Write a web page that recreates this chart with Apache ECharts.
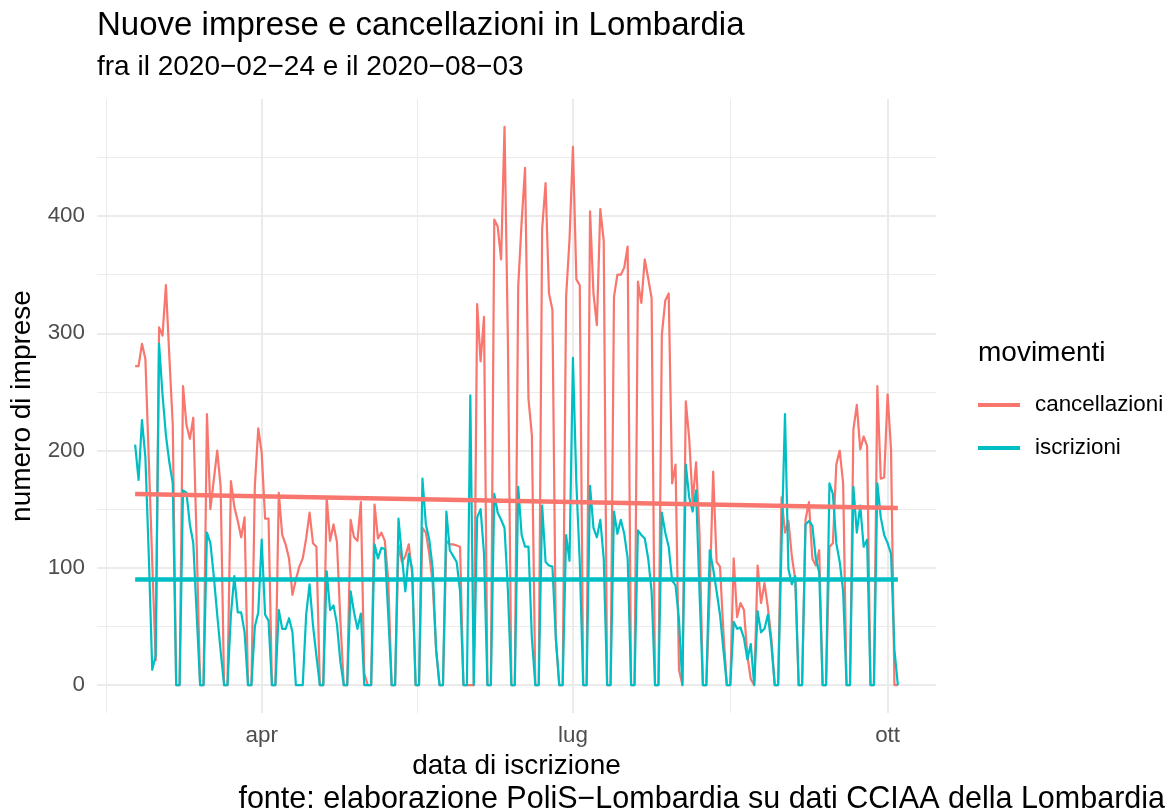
<!DOCTYPE html>
<html>
<head>
<meta charset="utf-8">
<script src="https://cdn.jsdelivr.net/npm/echarts@6/dist/echarts.min.js"></script>
<style>
  html, body { margin: 0; padding: 0; background: #fff; }
  #chart { width: 1176px; height: 811px; }
</style>
</head>
<body>
<div id="chart"></div>
<script>
// daily values from Monday 2020-02-24, one week (Mon..Sun) per line
const cancellazioni = [
  272, 272, 291, 278, 192, 105, 21,
  305, 298, 341, 280, 222, 0, 0,
  255, 222, 210, 228, 120, 0, 0,
  231, 150, 175, 200, 169, 0, 0,
  174, 152, 140, 126, 143, 0, 0,
  170, 219, 198, 142, 142, 0, 0,
  164, 128, 120, 108, 77, 90, 101,
  108, 125, 147, 121, 118, 0, 0,
  160, 123, 137, 122, 55, 0, 0,
  141, 126, 123, 156, 10, 0, 0,
  154, 125, 130, 123, 90, 0, 0,
  120, 105, 110, 120, 95, 0, 0,
  134, 130, 112, 86, 30, 0, 0,
  123, 120, 120, 119, 118, 0, 0,
  0, 0, 325, 276, 314, 0, 0,
  397, 391, 363, 476, 290, 0, 0,
  340, 395, 441, 244, 213, 0, 0,
  389, 428, 334, 320, 40, 0, 0,
  331, 380, 459, 346, 341, 0, 0,
  404, 334, 307, 406, 379, 0, 0,
  331, 350, 350, 356, 374, 0, 0,
  344, 326, 363, 347, 330, 0, 0,
  299, 328, 334, 172, 188, 13, 0,
  242, 210, 156, 190, 130, 0, 0,
  80, 182, 105, 101, 45, 0, 0,
  108, 58, 70, 64, 25, 5, 0,
  102, 70, 87, 66, 40, 0, 0,
  160, 130, 140, 110, 90, 0, 0,
  141, 156, 108, 102, 115, 0, 0,
  118, 121, 188, 200, 172, 0, 0,
  218, 239, 201, 212, 204, 0, 0,
  255, 176, 177, 248, 201, 0, 0
];
const iscrizioni = [
  205, 175, 226, 194, 110, 13, 25,
  291, 248, 213, 190, 172, 0, 0,
  166, 164, 137, 121, 60, 0, 0,
  130, 121, 93, 60, 29, 0, 0,
  60, 93, 62, 62, 45, 0, 0,
  50, 62, 124, 60, 55, 0, 0,
  64, 48, 48, 57, 45, 0, 0,
  0, 60, 86, 51, 25, 0, 0,
  97, 64, 68, 52, 20, 0, 0,
  80, 62, 48, 61, 0, 0, 0,
  120, 108, 117, 116, 60, 0, 0,
  142, 110, 80, 112, 99, 0, 0,
  176, 137, 124, 99, 30, 0, 0,
  148, 115, 110, 105, 80, 0, 0,
  247, 0, 143, 150, 112, 0, 0,
  163, 147, 141, 134, 80, 0, 0,
  169, 128, 118, 118, 40, 0, 0,
  153, 105, 102, 101, 40, 0, 0,
  128, 106, 279, 172, 105, 0, 0,
  170, 134, 126, 141, 108, 0, 0,
  148, 129, 141, 129, 108, 0, 0,
  132, 128, 125, 108, 80, 0, 0,
  147, 130, 118, 89, 85, 56, 0,
  188, 160, 148, 166, 80, 0, 0,
  115, 99, 80, 60, 30, 0, 0,
  54, 48, 49, 40, 22, 35, 0,
  63, 45, 48, 60, 35, 0, 0,
  120, 231, 99, 86, 93, 0, 0,
  137, 140, 136, 108, 96, 0, 0,
  172, 163, 121, 105, 80, 0, 0,
  169, 130, 153, 118, 124, 0, 0,
  172, 143, 128, 121, 112, 30, 0
];
// linear trend (first day, last day)
const trendCancellazioni = [163, 151];
const trendIscrizioni = [90, 90];

const yTicks = [0, 100, 200, 300, 400];
const yMinor = [50, 150, 250, 350, 450];
const monthNames = ['gen', 'feb', 'mar', 'apr', 'mag', 'giu', 'lug', 'ago', 'set', 'ott', 'nov', 'dic'];

const RED = '#F8766D';
const TEAL = '#00BFC4';
const FONT = 'Liberation Sans, Arial, sans-serif';

function dayTs(i) {
    return new Date(2020, 1, 24 + i).getTime();
}

window.onload = function () {
    let n = cancellazioni.length;
    let span = dayTs(n - 1) - dayTs(0);
    let xMin = dayTs(0) - 0.05 * span;
    let xMax = dayTs(n - 1) + 0.05 * span;
    let top = Math.max(Math.max(...cancellazioni), Math.max(...iscrizioni));
    let yMin = -0.05 * top;
    let yMax = top * 1.05;

    // major breaks on month starts, minor breaks halfway between them
    let majors = [new Date(2020, 0, 1).getTime(), new Date(2020, 3, 1).getTime(),
                  new Date(2020, 6, 1).getTime(), new Date(2020, 9, 1).getTime()];
    let xTicks = majors.slice(1);
    let xMinor = [];
    for (let i = 0; i < majors.length - 1; i++) {
        xMinor.push((majors[i] + majors[i + 1]) / 2);
    }

    let chart = echarts.init(document.getElementById('chart'));
    let option = {
        animation: false,
        backgroundColor: '#fff',
        textStyle: { fontFamily: FONT },
        title: [
            {
                text: 'Nuove imprese e cancellazioni in Lombardia',
                left: 97, top: 9, padding: 0,
                textStyle: { fontSize: 33, fontWeight: 'normal', color: '#000', fontFamily: FONT }
            },
            {
                text: 'fra il 2020\u221202\u221224 e il 2020\u221208\u221203',
                left: 97, top: 53, padding: 0,
                textStyle: { fontSize: 28, fontWeight: 'normal', color: '#000', fontFamily: FONT }
            },
            {
                text: 'movimenti',
                left: 978, top: 339, padding: 0,
                textStyle: { fontSize: 28, fontWeight: 'normal', color: '#000', fontFamily: FONT }
            },
            {
                text: 'fonte: elaborazione PoliS\u2212Lombardia su dati CCIAA della Lombardia',
                right: 11, top: 784, padding: 0,
                textStyle: { fontSize: 30.5, fontWeight: 'normal', color: '#000', fontFamily: FONT }
            }
        ],
        legend: {
            orient: 'vertical',
            left: 978, top: 393, padding: 0,
            itemWidth: 42, itemHeight: 4, itemGap: 19,
            icon: 'rect',
            selectedMode: false,
            data: ['cancellazioni', 'iscrizioni'],
            textStyle: { fontSize: 22.4, color: '#000', lineHeight: 24, padding: [0, 0, 0, 10], fontFamily: FONT }
        },
        grid: { left: 97, right: 240, top: 99, bottom: 98, containLabel: false },
        xAxis: [
            {
                type: 'value', min: xMin, max: xMax,
                axisLine: { show: false },
                axisTick: { show: false, customValues: xTicks },
                axisLabel: {
                    customValues: xTicks,
                    formatter: (v) => monthNames[new Date(v).getMonth()],
                    color: '#4D4D4D', fontSize: 22.4, margin: 12, fontFamily: FONT
                },
                splitLine: { show: true, lineStyle: { color: '#EBEBEB', width: 2 } },
                name: 'data di iscrizione', nameLocation: 'middle', nameGap: 36,
                nameTextStyle: { fontSize: 28, color: '#000', fontFamily: FONT }
            },
            {
                type: 'value', min: xMin, max: xMax,
                axisLine: { show: false },
                axisTick: { show: false, customValues: xMinor },
                axisLabel: { show: false, customValues: xMinor },
                splitLine: { show: true, lineStyle: { color: '#EBEBEB', width: 1 } }
            }
        ],
        yAxis: [
            {
                type: 'value', min: yMin, max: yMax,
                axisLine: { show: false },
                axisTick: { show: false, customValues: yTicks },
                axisLabel: { customValues: yTicks, color: '#4D4D4D', fontSize: 22.4, margin: 12, fontFamily: FONT },
                splitLine: { show: true, lineStyle: { color: '#EBEBEB', width: 2 } },
                name: 'numero di imprese', nameLocation: 'middle', nameGap: 43, nameRotate: 90,
                nameTextStyle: { fontSize: 28, color: '#000', fontFamily: FONT }
            },
            {
                type: 'value', min: yMin, max: yMax,
                axisLine: { show: false },
                axisTick: { show: false, customValues: yMinor },
                axisLabel: { show: false, customValues: yMinor },
                splitLine: { show: true, lineStyle: { color: '#EBEBEB', width: 1 } }
            }
        ],
        series: [
            {
                name: 'cancellazioni', type: 'line', showSymbol: false, symbol: 'none',
                data: cancellazioni.map((v, i) => [dayTs(i), v]),
                itemStyle: { color: RED },
                lineStyle: { color: RED, width: 2.2, join: 'round' },
                z: 2
            },
            {
                name: 'iscrizioni', type: 'line', showSymbol: false, symbol: 'none',
                data: iscrizioni.map((v, i) => [dayTs(i), v]),
                itemStyle: { color: TEAL },
                lineStyle: { color: TEAL, width: 2.2, join: 'round' },
                z: 3
            },
            {
                name: 'cancellazioni', type: 'line', showSymbol: false, symbol: 'none',
                data: [[dayTs(0), trendCancellazioni[0]], [dayTs(n - 1), trendCancellazioni[1]]],
                itemStyle: { color: RED },
                lineStyle: { color: RED, width: 4.5 },
                z: 4
            },
            {
                name: 'iscrizioni', type: 'line', showSymbol: false, symbol: 'none',
                data: [[dayTs(0), trendIscrizioni[0]], [dayTs(n - 1), trendIscrizioni[1]]],
                itemStyle: { color: TEAL },
                lineStyle: { color: TEAL, width: 4.5 },
                z: 5
            }
        ]
    };
    chart.setOption(option);
}
</script>
</body>
</html>
